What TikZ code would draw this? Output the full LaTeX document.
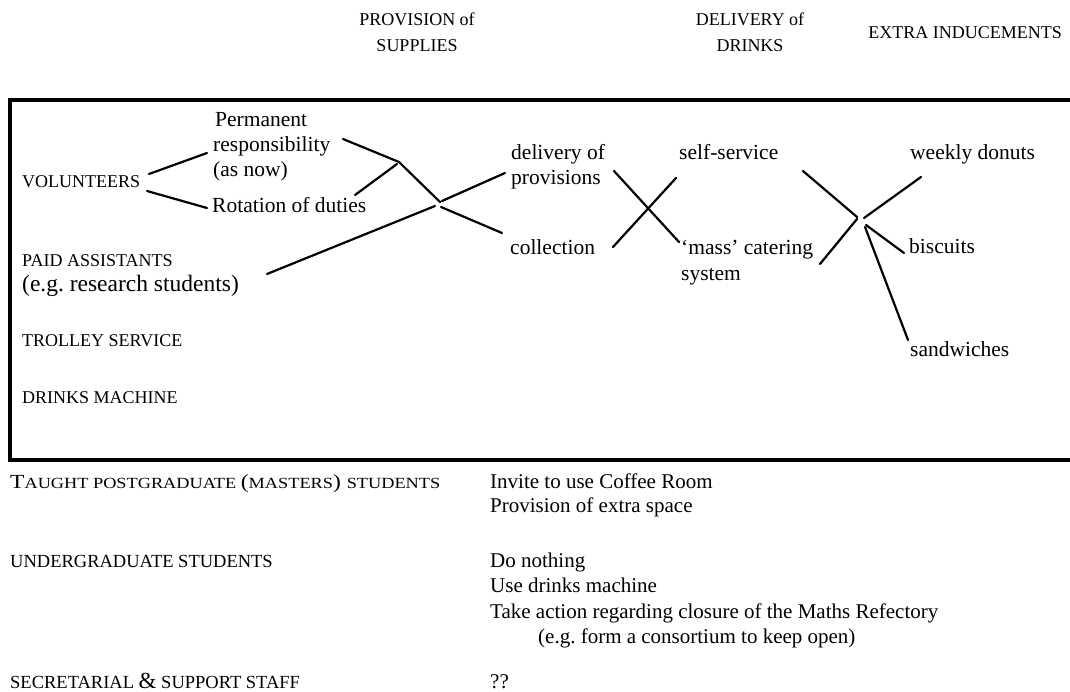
\documentclass[tikz,border=0pt]{standalone}
\usepackage{fontspec}
\setmainfont{Liberation Serif}
\usepackage{graphicx}
\frenchspacing
\begin{document}
\begin{tikzpicture}[x=1pt,y=-1pt,
  hdr/.style={font=\fontsize{18}{20}\selectfont, inner sep=0pt, anchor=base},
  lab/.style={font=\fontsize{18}{20}\selectfont, inner sep=0pt, anchor=base west},
  txt/.style={font=\fontsize{21.5}{25}\selectfont, inner sep=0pt, anchor=base west},
  btxt/.style={font=\fontsize{21}{24}\selectfont, inner sep=0pt, anchor=base west},
  conn/.style={line width=2.2pt, line cap=round},
  frame/.style={line width=3.5pt}]
\useasboundingbox (0,0) rectangle (1070,692);
% headers
\node[hdr] (h1a) at (417,26) {PROVISION of};
\node[hdr] (h1b) at (417,52) {SUPPLIES};
\node[hdr] (h2a) at (750,26) {DELIVERY of};
\node[hdr] (h2b) at (750,52) {DRINKS};
\node[hdr, anchor=base east] (h3) at (1062,39) {EXTRA INDUCEMENTS};
% frame
\coordinate (ftr) at (1085,100);
\coordinate (ftl) at (10,100);
\coordinate (fbl) at (10,460);
\coordinate (fbr) at (1085,460);
\draw[frame] (ftr) -- (ftl) -- (fbl) -- (fbr);
% left labels
\node[lab] (vol) at (22,188) {VOLUNTEERS};
\node[lab] (paid) at (22,267) {PAID ASSISTANTS};
\node[txt, font=\fontsize{23.5}{25}\selectfont] (paideg) at (22,292) {(e.g. research students)};
\node[lab] (trolley) at (22,346) {TROLLEY SERVICE};
\node[lab] (machine) at (22,403) {DRINKS MACHINE};
% volunteer options
\node[txt] (perm1) at (215,127) {Permanent};
\node[txt] (perm2) at (213,152) {responsibility};
\node[txt] (perm3) at (213,177) {(as now)};
\node[txt] (rot) at (212,213) {Rotation of duties};
% provision
\node[txt] (deliv1) at (511,160) {delivery of};
\node[txt] (deliv2) at (511,185) {provisions};
\node[txt] (coll) at (510,255) {collection};
% delivery of drinks
\node[txt] (self) at (679,160) {self-service};
\node[txt] (mass1) at (681,255) {`mass' catering};
\node[txt] (mass2) at (681,281) {system};
% inducements
\node[txt] (donuts) at (910,160) {weekly donuts};
\node[txt] (bisc) at (909,254) {biscuits};
\node[txt] (sand) at (910,356) {sandwiches};
% connector end points
\coordinate (a1) at (149,174); \coordinate (a2) at (207,153);
\coordinate (b1) at (147,191); \coordinate (b2) at (207,208);
\coordinate (c1) at (343,139); \coordinate (j1) at (399,162);
\coordinate (d1) at (355,195); \coordinate (d2) at (397,164);
\coordinate (j2) at (440,202);
\coordinate (e1) at (442,201); \coordinate (e2) at (505,173);
\coordinate (f1) at (441,207); \coordinate (f2) at (502,233);
\coordinate (g1) at (267,274); \coordinate (g2) at (435,206);
\coordinate (x1) at (614,171); \coordinate (x2) at (679,242);
\coordinate (y1) at (613,247); \coordinate (y2) at (676,178);
\coordinate (k1) at (803,171); \coordinate (j3) at (857,217);
\coordinate (m1) at (820,264); \coordinate (m2) at (857,219);
\coordinate (n1) at (864,218); \coordinate (n2) at (921,177);
\coordinate (p1) at (866,225); \coordinate (p2) at (904,253);
\coordinate (q1) at (865,227); \coordinate (q2) at (908,340);
\draw[conn] (a1) -- (a2);
\draw[conn] (b1) -- (b2);
\draw[conn] (c1) -- (j1) -- (j2);
\draw[conn] (d1) -- (d2);
\draw[conn] (e1) -- (e2);
\draw[conn] (f1) -- (f2);
\draw[conn] (g1) -- (g2);
\draw[conn] (x1) -- (x2);
\draw[conn] (y1) -- (y2);
\draw[conn] (k1) -- (j3);
\draw[conn] (m1) -- (m2);
\draw[conn] (n1) -- (n2);
\draw[conn] (p1) -- (p2);
\draw[conn] (q1) -- (q2);
% bottom section
\node[lab] (taught) at (10,488) {\resizebox{430pt}{\height}{\fontsize{20}{24}\selectfont T\fontsize{15.5}{24}\selectfont AUGHT POSTGRADUATE \fontsize{20}{24}\selectfont(\fontsize{15.5}{24}\selectfont MASTERS\fontsize{20}{24}\selectfont) \fontsize{15.5}{24}\selectfont STUDENTS}};
\node[lab, font=\fontsize{18.5}{20}\selectfont] (under) at (10,567) {UNDERGRADUATE STUDENTS};
\node[lab, font=\fontsize{18.5}{20}\selectfont] (secr) at (10,688) {SECRETARIAL {\fontsize{23}{24}\selectfont\&} SUPPORT STAFF};
\node[btxt] (inv) at (490,488) {Invite to use Coffee Room};
\node[btxt] (space) at (490,512) {Provision of extra space};
\node[btxt] (nothing) at (490,567) {Do nothing};
\node[btxt] (usem) at (490,592) {Use drinks machine};
\node[btxt] (action) at (490,618) {Take action regarding closure of the Maths Refectory};
\node[btxt] (consort) at (538,643) {(e.g. form a consortium to keep open)};
\node[btxt] (qq) at (490,688) {??};
\end{tikzpicture}
\end{document}
